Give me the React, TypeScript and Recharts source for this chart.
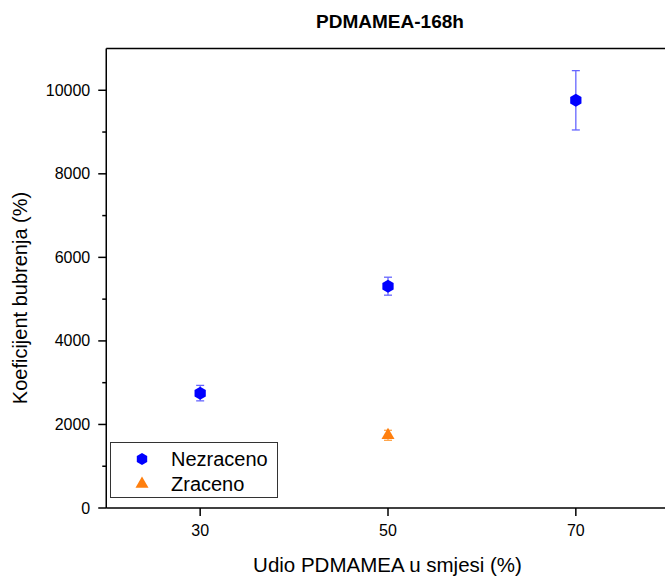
import React from "react";
import { ScatterChart, Scatter, XAxis, YAxis, ErrorBar } from "recharts";

// udio PDMAMEA (%)
const udio = [30, 50, 70];
const nezraceno = [2750, 5310, 9760];
const nezracenoErr = [185, 215, 710];

const udioZr = [50];
const zraceno = [1740];
const zracenoErr = [120];

const xTicks = [30, 50, 70];
const yTicks = [0, 1000, 2000, 3000, 4000, 5000, 6000, 7000, 8000, 9000, 10000];
const yMajor = [0, 2000, 4000, 6000, 8000, 10000];

const nezData = udio.map((x, i) => ({ x, y: nezraceno[i], err: nezracenoErr[i] }));
const zrData = udioZr.map((x, i) => ({ x, y: zraceno[i], err: zracenoErr[i] }));

const FONT = "'Liberation Sans', Arial, sans-serif";
const AX = 106.25; // left axis position

const Hexagon = ({ cx, cy, r = 6.5, fill = "#0000ff" }: any) => {
  const pts = [0, 1, 2, 3, 4, 5]
    .map((k) => {
      const a = (Math.PI / 3) * k - Math.PI / 2;
      return `${cx + r * Math.cos(a)},${cy + r * Math.sin(a)}`;
    })
    .join(" ");
  return <polygon points={pts} fill={fill} />;
};

const Triangle = ({ cx, cy, s = 13, fill = "#ff7f0e" }: any) => {
  const h = s * 0.87;
  const pts = `${cx},${cy - (h * 2) / 3} ${cx + s / 2},${cy + h / 3} ${cx - s / 2},${cy + h / 3}`;
  return <polygon points={pts} fill={fill} />;
};

const LeftTick = ({ y, payload }: any) => {
  const major = payload.value % 2000 === 0;
  return (
    <g>
      <line x1={AX} x2={AX - (major ? 8 : 4)} y1={y} y2={y} stroke="#000" strokeWidth={1.5} />
      {major && (
        <text x={AX - 16} y={y} textAnchor="end" dominantBaseline="central" fontSize={16} fontFamily={FONT} fill="#000">
          {payload.value}
        </text>
      )}
    </g>
  );
};

const Empty = () => <g />;

export default function App() {
  return (
    <div style={{ position: "absolute", left: 0, top: 0, width: 665, height: 577, overflow: "hidden", background: "#fff", fontFamily: FONT }}>
      <ScatterChart width={700} height={577} margin={{ top: 48.5, right: 30.25, bottom: 0, left: 0 }}>
        <XAxis
          type="number"
          dataKey="x"
          domain={[20, 80]}
          ticks={xTicks}
          interval={0}
          height={69}
          tickSize={8}
          tickMargin={9}
          stroke="#000"
          strokeWidth={1.5}
          tick={{ fontSize: 16, fill: "#000", fontFamily: FONT }}
          label={{
            content: () => (
              <text x={387.5} y={572} textAnchor="middle" fontSize={20.5} fontFamily={FONT} fill="#000">
                Udio PDMAMEA u smjesi (%)
              </text>
            ),
          }}
        />
        <XAxis
          xAxisId="top"
          orientation="top"
          type="number"
          domain={[20, 80]}
          ticks={xTicks}
          interval={0}
          height={1}
          mirror
          tickSize={7}
          stroke="#000"
          strokeWidth={1.5}
          tick={Empty}
        />
        <YAxis
          type="number"
          dataKey="y"
          domain={[0, 11000]}
          ticks={yTicks}
          interval={0}
          width={106.25}
          tickLine={false}
          stroke="#000"
          strokeWidth={1.5}
          tick={LeftTick}
          label={{
            content: () => (
              <text transform="translate(27,298) rotate(-90)" textAnchor="middle" fontSize={20} fontFamily={FONT} fill="#000">
                Koeficijent bubrenja (%)
              </text>
            ),
          }}
        />
        <YAxis
          yAxisId="right"
          orientation="right"
          type="number"
          domain={[0, 11000]}
          ticks={yMajor}
          interval={0}
          width={1}
          mirror
          tickSize={7}
          stroke="#000"
          strokeWidth={1.5}
          tick={Empty}
        />
        <Scatter name="Nezraceno" data={nezData} isAnimationActive={false} shape={(p: any) => <Hexagon cx={p.cx} cy={p.cy} />}>
          <ErrorBar dataKey="err" direction="y" width={4} stroke="#6666ff" strokeWidth={1.3} isAnimationActive={false} />
        </Scatter>
        <Scatter name="Zraceno" data={zrData} isAnimationActive={false} shape={(p: any) => <Triangle cx={p.cx} cy={p.cy} />}>
          <ErrorBar dataKey="err" direction="y" width={4} stroke="#ffa64d" strokeWidth={1.3} isAnimationActive={false} />
        </Scatter>
      </ScatterChart>

      <div style={{ position: "absolute", left: 290, top: 12, width: 200, textAlign: "center", fontWeight: "bold", fontSize: 19, lineHeight: "19px", color: "#000" }}>
        PDMAMEA-168h
      </div>

      <div style={{ position: "absolute", left: 110, top: 442, width: 166, height: 54, border: "1px solid #333", background: "#fff" }}>
        <svg width={166} height={54} style={{ position: "absolute", left: 0, top: 0 }}>
          <Hexagon cx={31} cy={16} r={6} />
          <Triangle cx={31} cy={41} s={13} />
          <text x={60} y={16} dominantBaseline="central" fontSize={20} fontFamily={FONT} fill="#000">Nezraceno</text>
          <text x={60} y={41} dominantBaseline="central" fontSize={20} fontFamily={FONT} fill="#000">Zraceno</text>
        </svg>
      </div>
    </div>
  );
}
